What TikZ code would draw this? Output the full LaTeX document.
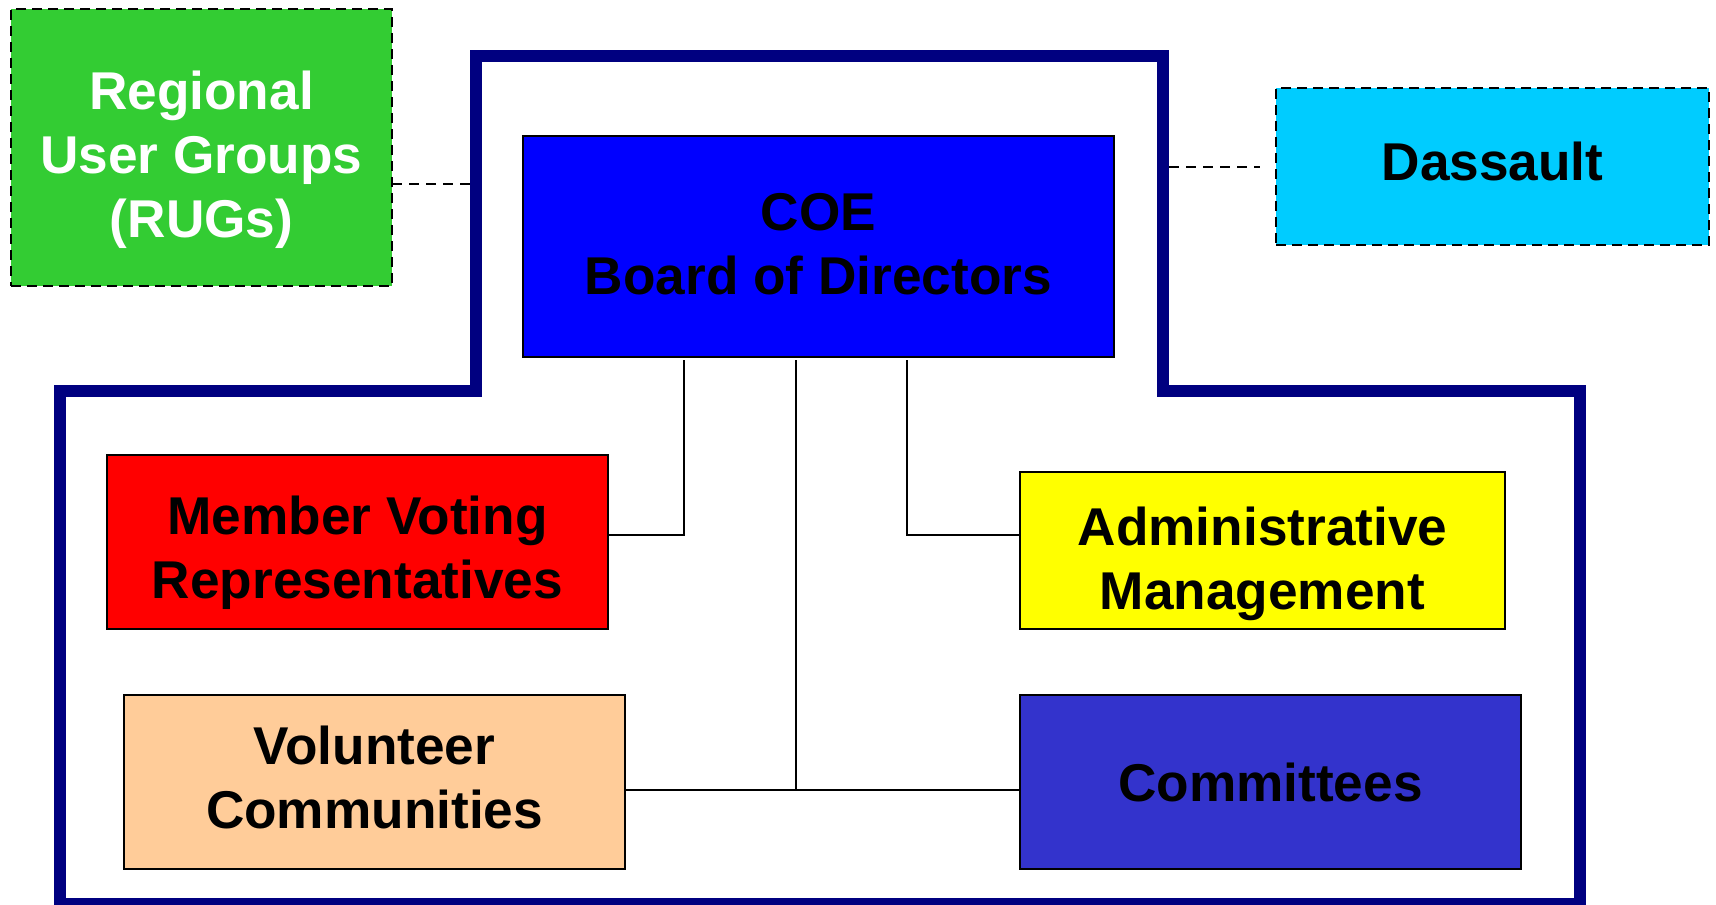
\documentclass[tikz,border=0pt]{standalone}
\usepackage{fontspec}
\setmainfont{Liberation Sans}
\definecolor{rugGreen}{HTML}{33CC33}
\definecolor{dasCyan}{HTML}{00CCFF}
\definecolor{coeBlue}{HTML}{0000FF}
\definecolor{mvrRed}{HTML}{FF0000}
\definecolor{amYellow}{HTML}{FFFF00}
\definecolor{vcPeach}{HTML}{FFCC99}
\definecolor{comBlue}{HTML}{3333CC}
\definecolor{frameNavy}{HTML}{000080}
\newcommand{\boxtext}[2]{\raisebox{#1}[\height][\depth]{\begin{tabular}{@{}c@{}}#2\end{tabular}}}
\begin{document}
\begin{tikzpicture}[x=0.5pt,y=-0.5pt,
  orgbox/.style={draw=black, line width=1pt, inner sep=0pt, outer sep=0pt,
    font=\fontsize{26.6}{32}\selectfont\bfseries},
  extbox/.style={orgbox, dashed, dash pattern=on 5pt off 3pt},
  link/.style={draw=black, line width=1pt},
  dashlink/.style={draw=black, line width=1pt, dash pattern=on 5pt off 3.5pt},
  frameline/.style={draw=frameNavy, line width=6pt, line join=miter}]
\useasboundingbox (0,0) rectangle (1716,904);
\fill[white] (0,0) rectangle (1716,904);

% outer frame
\coordinate (f1) at (476,56);
\coordinate (f2) at (1163,56);
\coordinate (f3) at (1163,391);
\coordinate (f4) at (1580,391);
\coordinate (f5) at (1580,904);
\coordinate (f6) at (60,904);
\coordinate (f7) at (60,391);
\coordinate (f8) at (476,391);
\draw[frameline] (f1) -- (f2) -- (f3) -- (f4) -- (f5) -- (f6) -- (f7) -- (f8) -- cycle;

% boxes
\node[extbox, fill=rugGreen, text=white, minimum width=190.5pt, minimum height=138.5pt] (rug) at (201.5,147.5)
  {\boxtext{-6.5pt}{Regional\\User Groups\\(RUGs)}};
\node[extbox, fill=dasCyan, minimum width=216.5pt, minimum height=78.5pt] (das) at (1492.5,166.5)
  {\boxtext{-0.6pt}{Dassault}};
\node[orgbox, fill=coeBlue, minimum width=295.5pt, minimum height=110.5pt] (coe) at (818.5,246.5)
  {\boxtext{-1.4pt}{COE\\Board of Directors}};
\node[orgbox, fill=mvrRed, minimum width=250.5pt, minimum height=87pt] (mvr) at (357.5,542)
  {\boxtext{-5.6pt}{Member Voting\\Representatives}};
\node[orgbox, fill=amYellow, minimum width=242.5pt, minimum height=78.5pt] (am) at (1262.5,550.5)
  {\boxtext{-7pt}{Administrative\\Management}};
\node[orgbox, fill=vcPeach, minimum width=250.5pt, minimum height=87pt] (vc) at (374.5,782)
  {\boxtext{-0.7pt}{Volunteer\\Communities}};
\node[orgbox, fill=comBlue, minimum width=250.5pt, minimum height=87pt] (com) at (1270.5,782)
  {\boxtext{-3.3pt}{Committees}};

% connectors
\coordinate (jl) at (684,535);
\coordinate (jm) at (796,790);
\coordinate (jr) at (907,535);
\draw[link] ([yshift=-1.5pt]jl |- coe.south) -- (jl) -- (jl -| mvr.east);
\draw[link] ([yshift=-1.5pt]jr |- coe.south) -- (jr) -- (jr -| am.west);
\draw[link] ([yshift=-1.5pt]jm |- coe.south) -- (jm);
\draw[link] (jm -| vc.east) -- (jm -| com.west);

% dashed links
\coordinate (rl) at (476,184);
\coordinate (dl) at (1169,167);
\draw[dashlink] (rl -| rug.east) -- (rl);
\draw[dashlink] (dl) -- ([xshift=-8pt]dl -| das.west);
\end{tikzpicture}
\end{document}
